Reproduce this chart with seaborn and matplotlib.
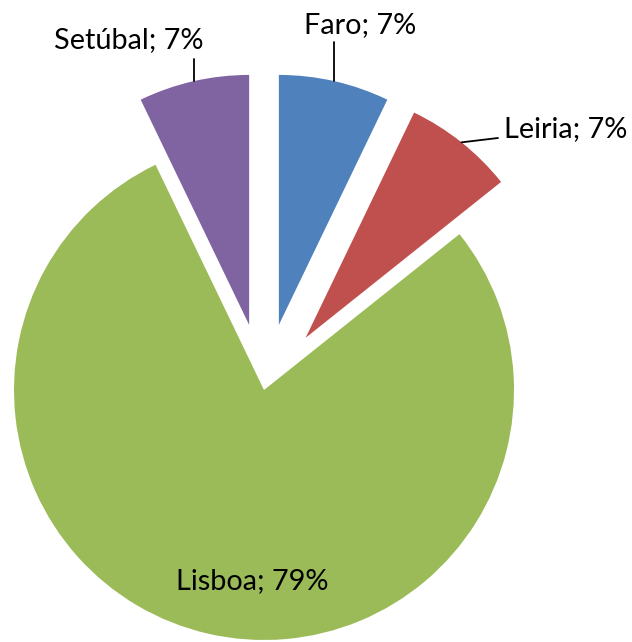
import numpy as np
import matplotlib
matplotlib.use("Agg")
import matplotlib.pyplot as plt
import seaborn as sns

# data
districts = ["Faro", "Leiria", "Lisboa", "Setúbal"]
counts = [1, 1, 11, 1]
pct_labels = ["7%", "7%", "79%", "7%"]
colors = ["#4F81BD", "#C0504D", "#9BBB59", "#8064A2"]
explode = [0.267, 0.267, 0.0, 0.267]

sns.set_theme(style="white")
plt.rcParams["font.family"] = ["Lato", "DejaVu Sans"]

W, H = 632, 642
R = 250.0          # pie radius in pixels
CX, CY = 264, 390  # pie centre in pixels (from top)

def px(x, y):
    # pixel position -> data coordinates
    return (x - CX) / R, (CY - y) / R

fig = plt.figure(figsize=(W / 100, H / 100), dpi=100)
ax = fig.add_axes([0, 0, 1, 1])

wedges, _ = ax.pie(counts, colors=colors, explode=explode, startangle=90,
                   counterclock=False, radius=1.0,
                   wedgeprops=dict(linewidth=0))

ax.set_xlim(-CX / R, (W - CX) / R)
ax.set_ylim(-(H - CY) / R, CY / R)
ax.set_aspect("equal", adjustable="box")
ax.axis("off")

# label text positions (pixel, baseline) and where the leader line ends
label_pos = {
    "Faro": (360, 33),
    "Leiria": (566, 137),
    "Lisboa": (252, 589),
    "Setúbal": (129, 48),
}
leader_end = {
    "Faro": (334, 42),
    "Leiria": (498, 138),
    "Setúbal": (196, 59),
}

for w, name, pct in zip(wedges, districts, pct_labels):
    tx, ty = px(*label_pos[name])
    ax.text(tx, ty, f"{name}; {pct}", ha="center", va="baseline",
            fontsize=20.8, color="black")
    if name in leader_end:
        ang = np.deg2rad((w.theta1 + w.theta2) / 2)
        cx, cy = w.center
        ax_x = cx + w.r * np.cos(ang)
        ax_y = cy + w.r * np.sin(ang)
        ex, ey = px(*leader_end[name])
        if name == "Leiria":
            ax.plot([ax_x, ex], [ax_y, ey], color="black", lw=1.3)
        else:
            ax.plot([ax_x, ax_x], [ax_y, ey], color="black", lw=1.3)

fig.savefig("out.png", dpi=100)
